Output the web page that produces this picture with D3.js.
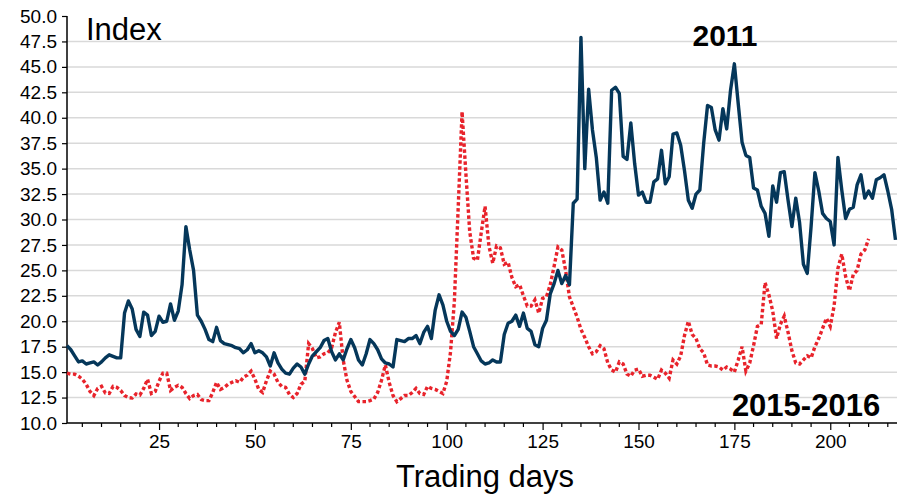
<!DOCTYPE html>
<html>
<head>
<meta charset="utf-8">
<script src="https://cdn.jsdelivr.net/npm/d3@7"></script>
<style>
  body { margin: 0; background: #fff; }
  text { font-family: "Liberation Sans", Arial, sans-serif; }
</style>
</head>
<body>
<div id="chart"></div>
<script>
// 2011 index level, trading days 1..217
const vol2011 = [
  17.6, 17.2, 16.6, 16.0, 16.1, 15.8, 15.9, 16.0, 15.7, 16.0,
  16.4, 16.7, 16.55, 16.4, 16.4, 20.8, 22.0, 21.2, 19.2, 18.5,
  20.9, 20.6, 18.6, 19.0, 20.5, 19.9, 20.0, 21.7, 20.1, 21.0,
  23.6, 29.3, 27.0, 25.0, 20.6, 20.0, 19.2, 18.2, 18.0, 19.4,
  18.1, 17.8, 17.7, 17.6, 17.4, 17.3, 16.9, 17.2, 17.8, 16.9,
  17.1, 16.9, 16.5, 15.6, 16.9, 15.9, 15.3, 14.9, 14.8, 15.4,
  15.8, 15.5, 14.8, 15.8, 16.6, 17.0, 17.4, 18.1, 18.3, 17.0,
  16.2, 16.8, 16.2, 17.3, 18.2, 17.4, 16.2, 15.7, 16.8, 18.2,
  17.8, 17.2, 16.3, 15.9, 15.8, 15.5, 18.2, 18.1, 18.0, 18.3,
  18.3, 18.6, 17.8, 18.9, 19.5, 18.3, 21.1, 22.6, 21.6, 20.0,
  19.0, 18.6, 19.2, 20.9, 20.4, 19.0, 17.5, 16.8, 16.1, 15.8,
  15.9, 16.2, 16.0, 16.0, 18.7, 19.8, 20.0, 20.6, 19.5, 20.8,
  19.3, 19.0, 17.7, 17.5, 19.3, 20.1, 22.7, 23.7, 25.0, 23.7,
  24.5, 23.6, 31.6, 32.0, 47.9, 35.0, 42.8, 38.8, 36.1, 31.9,
  32.7, 31.6, 42.7, 43.0, 42.4, 36.2, 35.9, 39.5, 35.5, 32.4,
  32.7, 31.7, 31.7, 33.7, 34.0, 36.8, 33.5, 34.2, 38.4, 38.5,
  37.3, 34.8, 31.9, 31.1, 32.5, 32.9, 37.5, 41.2, 41.0, 38.8,
  37.8, 40.9, 38.9, 42.7, 45.3, 41.4, 37.6, 36.3, 36.1, 33.1,
  32.9, 31.3, 30.6, 28.35, 33.3, 31.7, 34.6, 34.7, 31.9, 29.3,
  32.1, 29.7, 25.6, 24.7, 29.3, 34.6, 32.8, 30.6, 30.1, 29.8,
  27.5, 36.1, 32.9, 30.1, 31.0, 31.2, 33.4, 34.4, 32.1, 32.8,
  32.1, 33.9, 34.1, 34.4, 32.8, 31.0, 28.0
];

// 2015-2016 index level, trading days 1..210
const vol2015 = [
  14.9, 14.8, 14.8, 14.6, 14.3, 13.8, 13.1, 12.7, 13.4, 13.6,
  12.95, 12.9, 13.6, 13.5, 13.2, 12.7, 12.5, 12.45, 12.85, 12.75,
  13.4, 14.3, 12.9, 13.1, 14.1, 14.9, 14.9, 13.2, 13.5, 13.7,
  13.5, 12.9, 12.4, 12.7, 12.8, 12.3, 12.2, 12.2, 13.0, 14.0,
  13.3, 13.5, 13.8, 14.0, 14.15, 14.0, 14.5, 14.7, 15.1, 14.3,
  13.3, 13.0, 14.15, 15.1, 14.8, 14.0, 13.6, 13.5, 12.8, 12.5,
  12.9, 13.8, 14.1, 17.8, 17.3, 16.4, 16.5, 16.8, 16.9, 17.4,
  18.9, 19.9, 16.2, 14.2, 13.1, 12.6, 12.1, 12.1, 12.1, 12.2,
  12.35, 13.0, 14.2, 15.7, 14.0, 12.7, 12.1, 12.4, 12.7, 12.7,
  13.0, 13.4, 12.9, 12.8, 13.6, 13.4, 13.3, 13.1, 12.9, 14.1,
  17.0, 22.0, 31.2, 40.6, 34.5, 28.8, 26.2, 26.0, 28.7, 31.3,
  27.4, 25.7, 27.4, 27.2, 25.6, 25.8, 24.3, 23.4, 23.6, 22.5,
  21.5, 21.5, 22.1, 20.8, 22.25, 22.4, 23.6, 25.4, 27.3, 27.0,
  25.0, 22.4, 21.4, 20.4, 19.2, 18.4, 17.5, 16.8, 17.0, 17.6,
  17.3, 15.9, 15.2, 15.0, 16.0, 15.8, 14.8, 14.6, 15.2, 15.3,
  14.6, 14.7, 14.7, 14.5, 14.3, 15.2, 14.9, 14.4, 16.2, 15.8,
  16.6, 18.6, 20.0, 18.7, 18.3, 17.3, 16.9, 15.7, 15.6, 15.6,
  15.5, 15.2, 15.5, 15.3, 15.0, 16.2, 17.5, 15.1, 15.9, 17.6,
  19.5, 19.7, 23.8, 22.6, 21.0, 18.3, 19.7, 20.5, 18.9, 17.1,
  15.9, 15.8, 16.2, 16.6, 16.4, 17.5, 18.3, 19.3, 20.3, 19.5,
  21.5, 25.2, 26.6, 24.4, 23.0, 24.6, 25.0, 26.6, 27.0, 28.1
];

const yTicks = [10, 12.5, 15, 17.5, 20, 22.5, 25, 27.5, 30, 32.5, 35, 37.5, 40, 42.5, 45, 47.5, 50];
const xMajorTicks = [25, 50, 75, 100, 125, 150, 175, 200];
const xMinorTicks = d3.range(5, 218, 5).filter(d => d % 25 != 0);

const margin = {top: 16, right: 5, bottom: 72, left: 67};
const width = 902, height = 495;
const visWidth = width - margin.left - margin.right;
const visHeight = height - margin.top - margin.bottom;

const svg = d3.select("#chart").append("svg")
  .attr("width", width)
  .attr("height", height);

const g = svg.append("g")
  .attr("transform", `translate(${margin.left}, ${margin.top})`);

const x = d3.scaleLinear()
  .domain([1, 217.4])
  .range([0, visWidth]);

const y = d3.scaleLinear()
  .domain([10, 50])
  .range([visHeight, 0]);

//gridlines (none on the top and bottom value)
g.append("g")
  .selectAll("line")
  .data(yTicks.filter(d => d > 10 && d < 50))
  .join("line")
  .attr("x1", 0)
  .attr("x2", visWidth)
  .attr("y1", d => y(d))
  .attr("y2", d => y(d))
  .attr("stroke", "#d9d9d9")
  .attr("stroke-width", 1.5);

//y axis
const yAxisGroup = g.append("g")
  .call(d3.axisLeft(y).tickValues(yTicks).tickFormat(d3.format(".1f")).tickSize(5).tickPadding(5))
  .call(g => g.select(".domain").attr("stroke-width", 1.5).attr("d", `M0,0V${visHeight}`));
yAxisGroup.selectAll("text")
  .attr("font-size", "19px")
  .attr("fill", "#000");
yAxisGroup.selectAll(".tick line").attr("stroke-width", 1.2);

//x axis, major ticks with labels
const xAxisGroup = g.append("g")
  .attr("transform", `translate(0, ${visHeight})`)
  .call(d3.axisBottom(x).tickValues(xMajorTicks).tickFormat(d3.format("d")).tickSize(7).tickPadding(5))
  .call(g => g.select(".domain").attr("stroke-width", 1.5).attr("d", `M0,0H${visWidth}`));
xAxisGroup.selectAll("text")
  .attr("font-size", "19px")
  .attr("fill", "#000");
xAxisGroup.selectAll(".tick line").attr("stroke-width", 1.2);

//minor ticks every 5 days
xAxisGroup.append("g")
  .selectAll("line")
  .data(xMinorTicks)
  .join("line")
  .attr("x1", d => x(d))
  .attr("x2", d => x(d))
  .attr("y1", 0)
  .attr("y2", 4)
  .attr("stroke", "#000")
  .attr("stroke-width", 1.2);

const line = d3.line()
  .x((d, i) => x(i + 1))
  .y(d => y(d));

//2015-2016 dotted line
g.append("path")
  .datum(vol2015)
  .attr("d", line)
  .attr("fill", "none")
  .attr("stroke", "#e8232b")
  .attr("stroke-width", 3.4)
  .attr("stroke-dasharray", "3.5,2.5");

//2011 solid line
g.append("path")
  .datum(vol2011)
  .attr("d", line)
  .attr("fill", "none")
  .attr("stroke", "#05375a")
  .attr("stroke-width", 3.4)
  .attr("stroke-linejoin", "round");

//labels
svg.append("text")
  .attr("x", 86)
  .attr("y", 40)
  .attr("font-size", "31px")
  .text("Index");

svg.append("text")
  .attr("x", 725)
  .attr("y", 46)
  .attr("text-anchor", "middle")
  .attr("font-size", "30px")
  .attr("font-weight", "bold")
  .text("2011");

svg.append("text")
  .attr("x", 806)
  .attr("y", 416)
  .attr("text-anchor", "middle")
  .attr("font-size", "31px")
  .attr("font-weight", "bold")
  .text("2015-2016");

svg.append("text")
  .attr("x", 485)
  .attr("y", 487)
  .attr("text-anchor", "middle")
  .attr("font-size", "31px")
  .text("Trading days");
</script>
</body>
</html>
